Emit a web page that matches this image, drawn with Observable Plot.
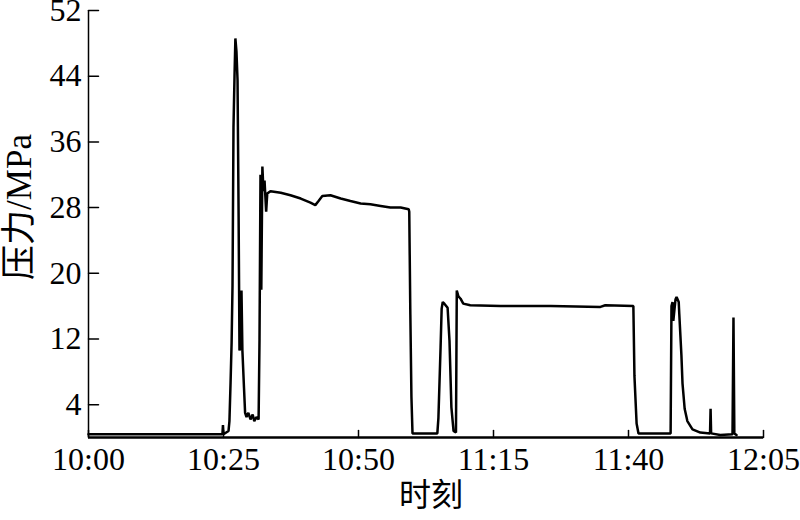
<!DOCTYPE html>
<html><head><meta charset="utf-8">
<script src="https://cdn.jsdelivr.net/npm/d3@7"></script>
<script src="https://cdn.jsdelivr.net/npm/@observablehq/plot@0.6"></script>
<style>
html,body{margin:0;padding:0;background:#fff;}
#chart{width:800px;height:520px;}
</style>
</head><body><div id="chart"></div>
<script>
// minutes after 10:00
const minutes = [0,24.8,24.9,25.0,25.93,26.1,26.3,26.5,26.67,26.85,27.04,27.2,27.4,27.6,27.8,27.96,28.15,28.33,28.5,28.8,29.0,29.26,29.6,30.0,30.4,30.7,31.1,31.5,31.67,31.85,32.0,32.2,32.4,32.6,32.9,33.1,33.7,35.6,37.4,39.3,41.1,42.0,42.6,43.3,44.8,46.7,48.5,50.4,52.2,54.1,55.9,57.8,59.3,59.4,59.6,59.8,60.0,64.6,64.8,65.2,65.4,65.6,65.9,66.5,66.85,67.2,67.6,68.05,68.2,68.5,68.9,69.4,70.7,76.3,85.6,94.8,95.7,100.9,101.1,101.5,101.85,107.8,107.96,108.15,108.3,108.7,108.9,109.3,109.4,109.8,110.0,110.4,110.9,111.85,113.3,115.1,115.2,115.3,117.0,119.26,119.44,119.6,120.0];
const pressure = [0.4,0.4,1.5,0.4,0.8,2,6.5,11.5,18.5,37.8,44,48.6,47,43.5,26.8,10.6,11,17.9,10.6,6,3,2.5,3,2.2,2.8,2.0,2.5,2.2,12,32,18,33,30,31.3,27.5,29.7,30,29.8,29.5,29.1,28.6,28.3,28.8,29.4,29.5,29.1,28.8,28.5,28.4,28.2,28.0,28.0,27.8,27.5,15,5,0.5,0.5,2.4,11,15.7,16.5,16.3,15.8,11.8,3.7,0.8,0.6,17.9,17.2,16.9,16.3,16.1,16.0,16.0,15.9,16.1,16.0,7.5,1.7,0.5,0.5,16,16.5,14.2,16.8,17.1,16.5,15.1,10,6.6,3.5,2,1.0,0.6,0.5,3.5,0.5,0.3,0.4,14.6,0.5,0.3];
const yTicks = [4,12,20,28,36,44,52];
const xTickLabels = ["10:00","10:25","10:50","11:15","11:40","12:05"];
const yLabel = ["压力/MPa"];
const xLabel = ["时刻"];

const base = new Date(2000,0,1,10,0,0);
const toDate = m => new Date(base.getTime() + m*60000);
const parseHM = s => { const [h,m]=s.split(":").map(Number); return new Date(2000,0,1,h,m,0); };
const data = minutes.map((m,i)=>({t: toDate(m), p: pressure[i]}));
const xTicks = xTickLabels.map(parseHM);

const font = '"Liberation Serif","Times New Roman","Noto Sans CJK SC",serif';
const tickShape = {draw(ctx, l) { ctx.moveTo(0, 0); ctx.lineTo(0, -l); }};

const chart = Plot.plot({
  width: 800, height: 520,
  marginLeft: 88, marginRight: 37, marginTop: 10, marginBottom: 83,
  style: {fontFamily: font, fontSize: "32px", color: "#000", background: "#fff", overflow: "visible"},
  x: {type: "time", domain: [xTicks[0], xTicks[xTicks.length-1]]},
  y: {domain: [0, 52]},
  marks: [
    Plot.axisX({ticks: xTicks, tickFormat: d3.timeFormat("%H:%M"), tickSize: 0, tickPadding: 10,
      label: null, fontSize: 32}),
    Plot.axisY({ticks: yTicks, tickSize: 0, tickPadding: 7, label: null, fontSize: 32}),
    Plot.text(yLabel, {text: d => d, frameAnchor: "left", textAnchor: "middle", lineAnchor: "middle", rotate: -90, dx: -69, dy: -17, fontSize: 35, fill: "#000"}),
    Plot.text(xLabel, {text: d => d, frameAnchor: "bottom", textAnchor: "middle", lineAnchor: "middle", dx: 5, dy: 58, fontSize: 32, fill: "#000"}),
    Plot.vector(yTicks, {x: () => xTicks[0], y: d => d, length: 10, rotate: 90, anchor: "start", shape: tickShape, stroke: "#000", strokeWidth: 1.5}),
    Plot.vector(xTicks, {x: d => d, y: () => 0, length: 7, rotate: 0, anchor: "start", shape: tickShape, stroke: "#000", strokeWidth: 1.5}),
    Plot.ruleX([xTicks[0]], {stroke: "#000", strokeWidth: 1.5}),
    Plot.ruleY([0], {stroke: "#000", strokeWidth: 2.5}),
    Plot.line(data, {x: "t", y: "p", stroke: "#000", strokeWidth: 2.5, strokeLinejoin: "miter"})
  ]
});
document.getElementById("chart").appendChild(chart);
</script>
</body></html>
